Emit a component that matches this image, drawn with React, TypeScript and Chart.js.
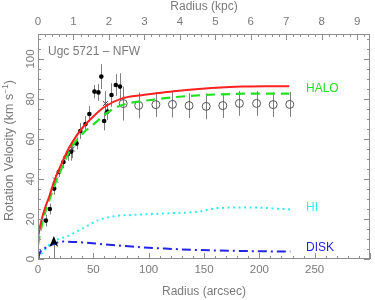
import React, { useEffect, useRef } from "react";
import { Chart, registerables } from "chart.js";

Chart.register(...registerables);

// ---------- data (arcsec, km/s) ----------
const FILLED_R = [0, 7.1, 10.7, 14.6, 18.8, 23, 27, 30, 34.8, 38.2, 42.9, 46.4, 51, 54.6, 57.2, 59.8, 62.8, 66.4, 70.3, 74.1];
const FILLED_V = [0, 19.2, 25, 35.2, 43.5, 48.5, 52.5, 53.7, 57.8, 64, 67.5, 72.5, 83.7, 83.3, 91.2, 69, 73.7, 82, 87, 86.2];
const FILLED_E = [0, 3, 2.7, 3, 2.5, 3, 3.4, 4.5, 3, 4, 4, 4, 3.3, 4.2, 6.2, 4.7, 4.3, 5.9, 5.4, 6.7];

const CROSS_R = [15.8, 31, 60.9];
const CROSS_V = [39.5, 55, 77.7];
const CROSS_E = [2.5, 4.5, 6.2];

const OPEN_R = [77, 91, 106.5, 121.5, 136.5, 152, 167, 182, 197.5, 212.5, 227.5];
const OPEN_V = [77.7, 76.8, 77.2, 77.3, 76.7, 76.3, 76.7, 77.8, 77.8, 77.2, 77.3];
const OPEN_E = [8.5, 6.5, 6.2, 6.5, 6.2, 6.5, 6.2, 6.2, 6.2, 6.2, 6.2];

const HALO_R = [0, 3, 6, 10, 15, 20, 27, 30, 40, 50, 60, 76, 91, 109, 125, 145, 165, 185, 205, 227];
const HALO_V = [11, 19, 25, 31, 39.5, 46, 54.5, 57.5, 65.5, 71.3, 76, 80.3, 81.8, 83, 84, 85, 85.8, 86.2, 86.4, 86.4];

const TOTAL_R = [0, 2, 5, 10, 15, 20, 30, 40, 50, 64, 76, 91, 109, 125, 150, 175, 200, 227];
const TOTAL_V = [7, 13, 20.5, 29, 37, 43.5, 55.5, 62.5, 67.3, 73.7, 77, 78.7, 80, 81, 82, 82.5, 82.7, 82.7];

const HI_R = [0, 5, 13.7, 25.6, 40.4, 55, 70, 85, 115, 145, 160, 189, 228];
const HI_V = [0, 4, 8.7, 11.2, 15.3, 19.5, 21.5, 22, 22.8, 23.7, 25.3, 25.8, 24.8];

const DISK_R = [0, 2, 5, 10, 22.6, 40, 60, 85, 115, 145, 185, 228];
const DISK_V = [0, 3.5, 5, 6.5, 8.7, 8.3, 7.3, 6.2, 5.2, 4.5, 4, 3.7];

const ARROW_R = 14.3;
const ARROW_V = 11.5;

// ---------- axes ----------
const X_MIN = 0;
const X_MAX = 300;
const X_TICKS = [0, 50, 100, 150, 200, 250];
const X_MINOR_STEP = 10;
const ARCSEC_PER_KPC = 32.05;
const KPC_TICKS = [0, 1, 2, 3, 4, 5, 6, 7, 8, 9];
const KPC_MINOR_STEP = 0.2;
const Y_MIN = 0;
const Y_MAX = 112.5;
const Y_TICKS = [0, 20, 40, 60, 80, 100];
const Y_MINOR_STEP = 5;

const TITLE = "Ugc 5721 \u2013 NFW";
const X_TITLE = "Radius (arcsec)";
const X2_TITLE = "Radius (kpc)";
const Y_TITLE = "Rotation Velocity (km s";

const zip = (xs: number[], ys: number[]) => xs.map((x, i) => ({ x, y: ys[i] }));

const AXIS_COLOR = "#8e8e8e";
const TEXT_COLOR = "#7a7a7a";
const FONT = "Liberation Sans, Arial, sans-serif";

const errorBarPlugin = {
  id: "errorBars",
  beforeDatasetsDraw(chart: any) {
    const ctx = chart.ctx;
    const xs = chart.scales.x;
    const ys = chart.scales.y;
    const sets: [number[], number[], number[]][] = [
      [FILLED_R, FILLED_V, FILLED_E],
      [CROSS_R, CROSS_V, CROSS_E],
      [OPEN_R, OPEN_V, OPEN_E],
    ];
    ctx.save();
    ctx.strokeStyle = "#808080";
    ctx.lineWidth = 1;
    sets.forEach(([r, v, e]) => {
      r.forEach((rv, i) => {
        if (!e[i]) return;
        const px = Math.round(xs.getPixelForValue(rv)) + 0.5;
        ctx.beginPath();
        ctx.moveTo(px, ys.getPixelForValue(v[i] - e[i]));
        ctx.lineTo(px, ys.getPixelForValue(v[i] + e[i]));
        ctx.stroke();
      });
    });
    const ax = Math.round(xs.getPixelForValue(ARROW_R)) + 0.5;
    ctx.beginPath();
    ctx.moveTo(ax, ys.getPixelForValue(0));
    ctx.lineTo(ax, ys.getPixelForValue(ARROW_V - 4));
    ctx.stroke();
    ctx.restore();
  },
  afterDatasetsDraw(chart: any) {
    const ctx = chart.ctx;
    const xs = chart.scales.x;
    const ys = chart.scales.y;
    const ax = xs.getPixelForValue(ARROW_R);
    const ay = ys.getPixelForValue(ARROW_V);
    ctx.save();
    ctx.fillStyle = "#000";
    ctx.beginPath();
    ctx.moveTo(ax, ay);
    ctx.lineTo(ax + 4.5, ay + 11);
    ctx.lineTo(ax, ay + 7.5);
    ctx.lineTo(ax - 4.5, ay + 11);
    ctx.closePath();
    ctx.fill();
    ctx.restore();
  },
};

const axesPlugin = {
  id: "frameAxes",
  afterDraw(chart: any) {
    const ctx = chart.ctx;
    const xs = chart.scales.x;
    const x2 = chart.scales.x2;
    const ys = chart.scales.y;
    const { left, right, top, bottom } = chart.chartArea;
    ctx.save();
    ctx.strokeStyle = AXIS_COLOR;
    ctx.lineWidth = 1;
    ctx.strokeRect(left + 0.5, top + 0.5, right - left - 1, bottom - top - 1);

    const major = 6;
    const minor = 3;
    ctx.beginPath();
    for (let v = X_MIN; v <= X_MAX + 1e-6; v += X_MINOR_STEP) {
      const px = Math.round(xs.getPixelForValue(v)) + 0.5;
      const len = v % 50 === 0 ? major : minor;
      ctx.moveTo(px, bottom);
      ctx.lineTo(px, bottom - len);
    }
    const kMax = x2.max;
    for (let i = 0; i * KPC_MINOR_STEP <= kMax + 1e-6; i++) {
      const v = i * KPC_MINOR_STEP;
      const px = Math.round(x2.getPixelForValue(v)) + 0.5;
      const len = i % 5 === 0 ? major : minor;
      ctx.moveTo(px, top);
      ctx.lineTo(px, top + len);
    }
    for (let v = Y_MIN; v <= Y_MAX + 1e-6; v += Y_MINOR_STEP) {
      const py = Math.round(ys.getPixelForValue(v)) + 0.5;
      const len = v % 20 === 0 ? major : minor;
      ctx.moveTo(left, py);
      ctx.lineTo(left + len, py);
      ctx.moveTo(right, py);
      ctx.lineTo(right - len, py);
    }
    ctx.stroke();

    ctx.fillStyle = TEXT_COLOR;
    ctx.font = `11.5px ${FONT}`;
    ctx.textAlign = "center";
    ctx.textBaseline = "middle";
    X_TICKS.forEach((v) => ctx.fillText(String(v), xs.getPixelForValue(v), bottom + 11));
    KPC_TICKS.forEach((v) => ctx.fillText(String(v), x2.getPixelForValue(v), top - 12));
    Y_TICKS.forEach((v) => {
      ctx.save();
      ctx.translate(left - 7, ys.getPixelForValue(v));
      ctx.rotate(-Math.PI / 2);
      ctx.fillText(String(v), 0, 0);
      ctx.restore();
    });

    ctx.font = `12px ${FONT}`;
    const cx = (left + right) / 2;
    ctx.fillText(X_TITLE, cx, bottom + 33);
    ctx.fillText(X2_TITLE, cx, 7);
    ctx.save();
    ctx.translate(10, (top + bottom) / 2 + 4);
    ctx.rotate(-Math.PI / 2);
    ctx.font = `12.5px ${FONT}`;
    const w = ctx.measureText(Y_TITLE).width;
    ctx.font = `8.5px ${FONT}`;
    const sw = ctx.measureText("\u22121").width;
    ctx.font = `12.5px ${FONT}`;
    const p = ctx.measureText(")").width;
    const total = w + sw + p;
    ctx.textAlign = "left";
    ctx.fillText(Y_TITLE, -total / 2, 0);
    ctx.font = `8.5px ${FONT}`;
    ctx.fillText("\u22121", -total / 2 + w, -4);
    ctx.font = `12.5px ${FONT}`;
    ctx.fillText(")", -total / 2 + w + sw, 0);
    ctx.restore();

    ctx.textAlign = "left";
    ctx.font = `12px ${FONT}`;
    ctx.fillStyle = TEXT_COLOR;
    ctx.fillText(TITLE, left + 10, top + 18);
    ctx.font = `12px ${FONT}`;
    ctx.fillStyle = "#22e022";
    ctx.fillText("HALO", 306, 89);
    ctx.fillStyle = "#33eeee";
    ctx.fillText("HI", 306, 208);
    ctx.fillStyle = "#2424e6";
    ctx.fillText("DISK", 306, 248);
    ctx.restore();
  },
};

export default function App() {
  const ref = useRef<HTMLCanvasElement | null>(null);
  useEffect(() => {
    document.body.style.margin = "0";
    if (!ref.current) return;
    const line = (data: any, color: string, width: number, dash: number[]) => ({
      type: "line" as const,
      data,
      borderColor: color,
      borderWidth: width,
      borderDash: dash,
      pointRadius: 0,
      fill: false,
      tension: 0.3,
      cubicInterpolationMode: "monotone" as const,
    });
    const chart = new Chart(ref.current, {
      type: "scatter",
      data: {
        datasets: [
          line(zip(DISK_R, DISK_V), "#2424e6", 2, [9, 4, 2, 4]),
          line(zip(HI_R, HI_V), "#33eeee", 2, [2, 3.5]),
          line(zip(HALO_R, HALO_V), "#ff2020", 2, []),
          line(zip(TOTAL_R, TOTAL_V), "#22e022", 2.2, [9, 6]),
          {
            type: "scatter" as const,
            data: zip(OPEN_R, OPEN_V),
            pointStyle: "circle",
            pointRadius: 4,
            backgroundColor: "rgba(255,255,255,0)",
            borderColor: "#555",
            borderWidth: 1,
          },
          {
            type: "scatter" as const,
            data: zip(CROSS_R, CROSS_V),
            pointStyle: "crossRot",
            pointRadius: 3.5,
            borderColor: "#444",
            borderWidth: 1,
          },
          {
            type: "scatter" as const,
            data: zip(FILLED_R, FILLED_V),
            pointStyle: "circle",
            pointRadius: 2.3,
            backgroundColor: "#000",
            borderColor: "#000",
            borderWidth: 0,
          },
        ] as any,
      },
      options: {
        animation: false,
        responsive: false,
        devicePixelRatio: 1,
        layout: { padding: { left: 38, right: 1, top: 34, bottom: 41 } },
        plugins: { legend: { display: false }, tooltip: { enabled: false } },
        scales: {
          x: { type: "linear", display: false, min: X_MIN, max: X_MAX },
          x2: { type: "linear", display: false, position: "top", min: X_MIN / ARCSEC_PER_KPC, max: X_MAX / ARCSEC_PER_KPC },
          y: { type: "linear", display: false, min: Y_MIN, max: Y_MAX },
        },
      },
      plugins: [errorBarPlugin, axesPlugin],
    });
    return () => chart.destroy();
  }, []);
  return <canvas ref={ref} width={375} height={300} style={{ display: "block" }} />;
}
